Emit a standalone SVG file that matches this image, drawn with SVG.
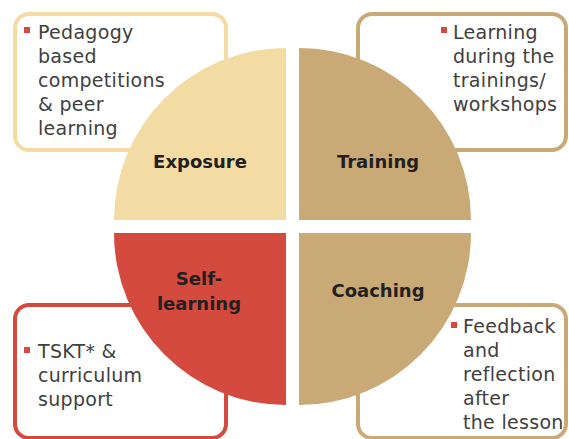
<svg xmlns="http://www.w3.org/2000/svg" width="569" height="439" viewBox="0 0 569 439">
<style>
.box{fill:#fff;stroke-width:4}
.t{font-family:"DejaVu Sans","Liberation Sans",sans-serif;font-size:19px;letter-spacing:0.3px;fill:#404040}
.h{font-family:"DejaVu Sans","Liberation Sans",sans-serif;font-size:18px;font-weight:bold;fill:#231f20;text-anchor:middle}
.b{fill:#d44a3f}
</style>
<rect width="569" height="439" fill="#fff"/>
<g id="exposure">
<rect class="box" x="15" y="14" width="211" height="136" rx="14" stroke="#f2dca4"/>
<path d="M286,220 L114,220 A172,172 0 0 1 286,48 Z" fill="#f2dca4"/>
<rect class="b" x="24" y="27" width="6" height="6"/>
<text class="t"><tspan x="38" y="39">Pedagogy</tspan><tspan x="38" y="63">based</tspan><tspan x="38" y="87">competitions</tspan><tspan x="38" y="111">&amp; peer</tspan><tspan x="38" y="135">learning</tspan></text>
<text class="h" x="200" y="168">Exposure</text>
</g>
<g id="training">
<rect class="box" x="358" y="14" width="208" height="136" rx="14" stroke="#c9a975"/>
<path d="M299,220 L299,48 A172,172 0 0 1 471,220 Z" fill="#c9a975"/>
<rect class="b" x="441" y="27" width="6" height="6"/>
<text class="t"><tspan x="453" y="39">Learning</tspan><tspan x="453" y="63">during the</tspan><tspan x="453" y="87">trainings/</tspan><tspan x="453" y="111">workshops</tspan></text>
<text class="h" x="378" y="168">Training</text>
</g>
<g id="self-learning">
<rect class="box" x="15" y="305" width="211" height="133" rx="14" stroke="#d44a3f"/>
<path d="M286,233 L286,405 A172,172 0 0 1 114,233 Z" fill="#d44a3f"/>
<rect class="b" x="24" y="347" width="6" height="6"/>
<text class="t"><tspan x="38" y="358">TSKT* &amp;</tspan><tspan x="38" y="382">curriculum</tspan><tspan x="38" y="406">support</tspan></text>
<text class="h"><tspan x="199" y="285">Self-</tspan><tspan x="199" y="310">learning</tspan></text>
</g>
<g id="coaching">
<rect class="box" x="358" y="305" width="208" height="133" rx="14" stroke="#c9a975"/>
<path d="M299,233 L471,233 A172,172 0 0 1 299,405 Z" fill="#c9a975"/>
<rect class="b" x="451" y="322" width="6" height="6"/>
<text class="t"><tspan x="463" y="333">Feedback</tspan><tspan x="463" y="357">and</tspan><tspan x="463" y="381">reflection</tspan><tspan x="463" y="405">after</tspan><tspan x="463" y="429">the lesson</tspan></text>
<text class="h" x="378" y="297">Coaching</text>
</g>
<g id="connectors"></g>
</svg>
